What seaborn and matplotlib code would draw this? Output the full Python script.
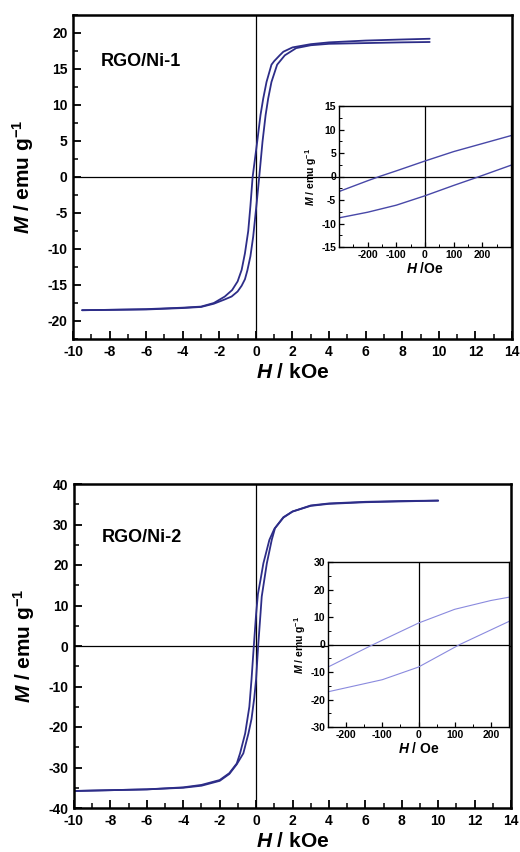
import numpy as np
import pandas as pd
import matplotlib
matplotlib.use("Agg")
import matplotlib.pyplot as plt
from matplotlib.ticker import MultipleLocator
import seaborn as sns

# ---------------- data ----------------
# Panel 1: RGO/Ni-1 (H in kOe, M in emu/g)
h1_down = [9.5, 8, 6, 4, 3, 2, 1.5, 1.3, 1.0, 0.85, 0.58, 0.4, 0.25, 0.07, -0.18, -0.3, -0.42, -0.6, -0.78, -1.0, -1.3, -1.7, -2.3, -3, -4, -6, -8, -9.5]
m1_down = [19.2, 19.1, 18.95, 18.7, 18.45, 18.0, 17.4, 16.9, 16.1, 15.6, 13.2, 10.9, 8.6, 4.9, 0.0, -4.0, -7.5, -10.6, -12.9, -14.5, -15.7, -16.6, -17.5, -18.0, -18.15, -18.35, -18.45, -18.5]
h1_up = [-9.5, -8, -6, -4, -3, -2.3, -1.7, -1.33, -1.0, -0.78, -0.6, -0.47, -0.3, -0.15, 0.04, 0.18, 0.36, 0.53, 0.67, 0.85, 1.16, 1.58, 2.2, 3, 4, 6, 8, 9.5]
m1_up = [-18.5, -18.45, -18.4, -18.2, -18.05, -17.6, -17.0, -16.6, -15.9, -15.1, -14.2, -13.0, -11.0, -8.3, -3.65, 0.0, 4.9, 8.6, 10.9, 13.2, 15.6, 16.9, 17.9, 18.3, 18.5, 18.6, 18.7, 18.75]

# Inset 1 (H in Oe)
hi1_down = [300, 200, 100, 0, -100, -159, -200, -300]
mi1_down = [8.7, 7.0, 5.3, 3.3, 1.2, 0.0, -0.9, -3.2]
hi1_up = [-300, -200, -100, 0, 100, 190, 300]
mi1_up = [-8.8, -7.6, -6.1, -4.1, -1.9, 0.0, 2.4]

# Panel 2: RGO/Ni-2
h2_down = [10, 8, 6, 4, 3, 2, 1.5, 1.0, 0.73, 0.4, 0.25, 0.1, 0.0, -0.125, -0.25, -0.37, -0.6, -0.88, -1.06, -1.47, -2, -3, -4, -6, -8, -10]
m2_down = [35.9, 35.8, 35.6, 35.2, 34.7, 33.2, 31.8, 28.9, 26.2, 20.4, 16.5, 12.8, 7.8, 0.0, -8.2, -15.0, -21.6, -26.5, -29.0, -31.4, -33.1, -34.3, -34.9, -35.4, -35.6, -35.8]
h2_up = [-10, -8, -6, -4, -3, -2, -1.47, -1.06, -0.7, -0.42, -0.25, -0.1, 0.0, 0.114, 0.25, 0.31, 0.59, 0.86, 1.04, 1.5, 2, 3, 4, 6, 8, 10]
m2_up = [-35.8, -35.6, -35.4, -35.0, -34.5, -33.3, -31.6, -29.2, -26.5, -21.6, -18.0, -12.8, -8.2, 0.0, 8.4, 12.2, 20.4, 26.2, 29.1, 31.7, 33.2, 34.6, 35.1, 35.5, 35.7, 35.9]

# Inset 2 (H in Oe)
hi2_down = [250, 200, 100, 0, -125, -250]
mi2_down = [17.2, 16.0, 12.8, 7.8, 0.0, -8.2]
hi2_up = [-250, -100, 0, 114, 250]
mi2_up = [-17.2, -12.8, -8.2, 0.0, 8.4]

labels = ["RGO/Ni-1", "RGO/Ni-2"]

# ---------------- style ----------------
sns.set_style("ticks")
plt.rcParams["font.family"] = ["Liberation Sans", "DejaVu Sans"]
plt.rcParams["font.weight"] = "bold"
plt.rcParams["axes.unicode_minus"] = False
plt.rcParams["mathtext.fontset"] = "custom"
plt.rcParams["mathtext.rm"] = "Liberation Sans:bold"
plt.rcParams["mathtext.bf"] = "Liberation Sans:bold"
plt.rcParams["mathtext.it"] = "Liberation Sans:bold:italic"
plt.rcParams["xtick.direction"] = "in"
plt.rcParams["ytick.direction"] = "in"
for k in ["text.color", "axes.labelcolor", "xtick.color", "ytick.color", "axes.edgecolor"]:
    plt.rcParams[k] = "black"

W, H = 520, 852
fig = plt.figure(figsize=(W / 100, H / 100), dpi=100)

def frac(x0, y0, x1, y1):
    return [x0 / W, 1 - y1 / H, (x1 - x0) / W, (y1 - y0) / H]

main_col = "#2d2d88"

def loop(ax, hd, md, hu, mu, color, lw):
    d1 = pd.DataFrame({"H": hd, "M": md})
    d2 = pd.DataFrame({"H": hu, "M": mu})
    sns.lineplot(data=d1, x="H", y="M", sort=False, estimator=None, ax=ax, color=color, lw=lw)
    sns.lineplot(data=d2, x="H", y="M", sort=False, estimator=None, ax=ax, color=color, lw=lw)

def style_main(ax, ylim, ymaj, ymin):
    ax.set_xlim(-10, 14)
    ax.set_ylim(*ylim)
    ax.xaxis.set_major_locator(MultipleLocator(2))
    ax.xaxis.set_minor_locator(MultipleLocator(1))
    ax.yaxis.set_major_locator(MultipleLocator(ymaj))
    ax.yaxis.set_minor_locator(MultipleLocator(ymin))
    ax.tick_params(which="major", length=6, width=1.3, labelsize=10, pad=4)
    ax.tick_params(which="minor", length=3.5, width=1.1)
    for s in ax.spines.values():
        s.set_linewidth(1.8)
    for t in ax.get_xticklabels() + ax.get_yticklabels():
        t.set_fontweight("bold")
    ax.axhline(0, color="black", lw=0.9, zorder=1)
    ax.axvline(0, color="black", lw=0.9, zorder=1)
    ax.set_xlabel(r"$H$ / kOe", fontsize=15, fontweight="bold", labelpad=3)
    ax.set_ylabel(r"$M$ / emu g$^{-1}$", fontsize=15, fontweight="bold", labelpad=8)

def style_inset(ax, xlim, ylim, xmaj, xmin, ymaj, ymin, xlabel):
    ax.set_facecolor("white")
    ax.set_xlim(*xlim)
    ax.set_ylim(*ylim)
    ax.xaxis.set_major_locator(MultipleLocator(xmaj))
    ax.xaxis.set_minor_locator(MultipleLocator(xmin))
    ax.yaxis.set_major_locator(MultipleLocator(ymaj))
    ax.yaxis.set_minor_locator(MultipleLocator(ymin))
    ax.tick_params(which="major", length=3.5, width=0.9, labelsize=7.5, pad=2)
    ax.tick_params(which="minor", length=2, width=0.7)
    for s in ax.spines.values():
        s.set_linewidth(1.0)
    for t in ax.get_xticklabels() + ax.get_yticklabels():
        t.set_fontweight("bold")
    ax.axhline(0, color="black", lw=0.9, zorder=1)
    ax.axvline(0, color="black", lw=0.9, zorder=1)
    ax.set_xlabel(xlabel, fontsize=10, fontweight="bold", labelpad=1)
    ax.set_ylabel(r"$M$ / emu g$^{-1}$", fontsize=7.5, fontweight="bold", labelpad=2)

# Panel 1
ax1 = fig.add_axes(frac(73, 15, 512, 339))
loop(ax1, h1_down, m1_down, h1_up, m1_up, main_col, 1.3)
style_main(ax1, (-22.5, 22.5), 5, 2.5)
ax1.text(-8.5, 16, labels[0], fontsize=13, fontweight="bold", va="center", ha="left")

in1 = fig.add_axes(frac(339, 106, 511, 247))
loop(in1, hi1_down, mi1_down, hi1_up, mi1_up, "#4848a8", 1.0)
style_inset(in1, (-300, 300), (-15, 15), 100, 50, 5, 2.5, r"$H$ /Oe")
in1.set_xticks([-200, -100, 0, 100, 200])

# Panel 2
ax2 = fig.add_axes(frac(74, 484, 511, 808))
loop(ax2, h2_down, m2_down, h2_up, m2_up, main_col, 1.3)
style_main(ax2, (-40, 40), 10, 5)
ax2.text(-8.5, 26.7, labels[1], fontsize=13, fontweight="bold", va="center", ha="left")

in2 = fig.add_axes(frac(328, 562, 509, 727))
loop(in2, hi2_down, mi2_down, hi2_up, mi2_up, "#8a8ade", 0.8)
style_inset(in2, (-250, 250), (-30, 30), 100, 50, 10, 5, r"$H$ / Oe")

fig.savefig("out.png", dpi=100)
